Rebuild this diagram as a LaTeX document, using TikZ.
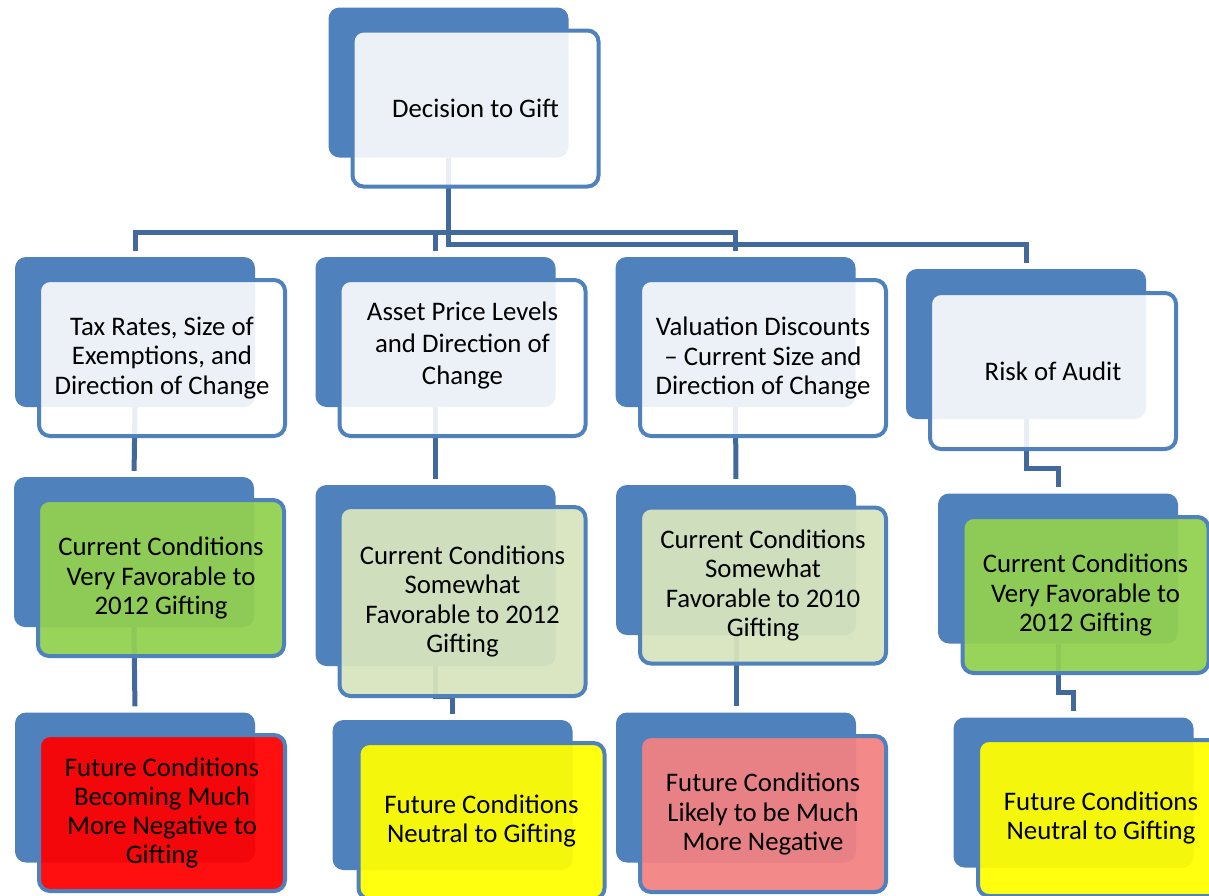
\documentclass[tikz,border=0pt]{standalone}
\usepackage{fontspec}
\setmainfont{Carlito}
\usetikzlibrary{calc}
\pgfdeclarelayer{links}
\pgfsetlayers{links,main}

\definecolor{accent}{RGB}{79,129,189}
\definecolor{linkblue}{RGB}{65,105,155}
\definecolor{leafgreen}{RGB}{146,208,80}
\definecolor{palegreen}{RGB}{215,228,189}
\definecolor{alertred}{RGB}{255,0,0}
\definecolor{softred}{RGB}{242,130,130}
\definecolor{brightyellow}{RGB}{255,255,0}

\tikzset{
  backbox/.style={fill=accent, rounded corners=11pt, minimum width=240pt,
    minimum height=150pt, inner sep=0pt},
  frontbox/.style={draw=accent, line width=4pt, fill=white, fill opacity=0.89,
    text opacity=1, rounded corners=11pt, minimum width=246pt,
    minimum height=156pt, align=center, inner sep=0pt,
    font=\fontsize{26.8}{29.3}\selectfont},
  tinted/.style={frontbox, fill=#1, fill opacity=0.94},
  boxtext/.style={align=center, inner sep=0pt, font=\fontsize{26.8}{32}\selectfont},
  conn/.style={draw=linkblue, line width=5pt, shorten >=6pt},
}

\begin{document}
\begin{tikzpicture}[x=1pt, y=-1pt]
  \useasboundingbox (0,0) rectangle (1209,895);
  \clip (0,0) rectangle (1209,895);

  % root
  \node[backbox] (b0) at (448.5,82.5) {};
  \node[frontbox] (f0) at (475.5,108.5) {Decision to Gift};

  % first level: the four factors
  \node[backbox] (b1) at (135,332) {};
  \node[frontbox] (f1) at (162,358) {Tax Rates, Size of\\Exemptions, and\\Direction of Change};

  \node[backbox] (b2) at (435.5,332) {};
  \node[frontbox] (f2) at (462.5,358) {};
  \node[boxtext] (t2) at (462.5,345) {Asset Price Levels\\and Direction of\\Change};

  \node[backbox] (b3) at (735.5,332) {};
  \node[frontbox] (f3) at (763,358) {Valuation Discounts\\\textendash{} Current Size and\\Direction of Change};

  \node[backbox] (b4) at (1026,344) {};
  \node[frontbox] (f4) at (1053,371) {Risk of Audit};

  % second level: current conditions
  \node[backbox] (b5) at (134,552) {};
  \node[tinted=leafgreen] (f5) at (161,578) {Current Conditions\\Very Favorable to\\2012 Gifting};

  \node[backbox, minimum height=181pt] (b6) at (435.5,575.5) {};
  \node[tinted=palegreen, minimum height=189pt] (f6) at (462.5,601.5) {Current Conditions\\Somewhat\\Favorable to 2012\\Gifting};

  \node[backbox] (b7) at (736,560) {};
  \node[tinted=palegreen] (f7) at (763,585.5) {Current Conditions\\Somewhat\\Favorable to 2010\\Gifting};

  \node[backbox] (b8) at (1058,568.5) {};
  \node[tinted=leafgreen] (f8) at (1085.5,595) {Current Conditions\\Very Favorable to\\2012 Gifting};

  % third level: future conditions
  \node[backbox] (b9) at (135,787.5) {};
  \node[tinted=alertred] (f9) at (162,813) {Future Conditions\\Becoming Much\\More Negative to\\Gifting};

  \node[backbox] (b10) at (452.5,795) {};
  \node[tinted=brightyellow] (f10) at (481.5,821) {Future Conditions\\Neutral to Gifting};

  \node[backbox] (b11) at (736,787.5) {};
  \node[tinted=softred] (f11) at (763,814) {Future Conditions\\Likely to be Much\\More Negative};

  \node[backbox] (b12) at (1073.5,792.5) {};
  \node[tinted=brightyellow] (f12) at (1101,818) {Future Conditions\\Neutral to Gifting};

  % connectors, kept underneath the boxes
  \begin{pgfonlayer}{links}
    \draw[conn] (b0.south) -- ++(0,75) -| (b1.north);
    \draw[conn] (b0.south) -- ++(0,75) -| (b2.north);
    \draw[conn] (b0.south) -- ++(0,75) -| (b3.north);
    \draw[conn] (b0.south) -- ++(0,87) -| (b4.north);

    \draw[conn] (b1.south) -- (b5.north);
    \draw[conn] (b2.south) -- (b6.north);
    \draw[conn] (b3.south) -- (b7.north);
    \draw[conn] (b4.south) -- ++(0,49) -| (b8.north);

    \draw[conn] (b5.south) -- (b9.north);
    \draw[conn] (b6.south) -- ++(0,30) -| (b10.north);
    \draw[conn] (b7.south) -- (b11.north);
    \draw[conn] (b8.south) -- ++(0,49) -| (b12.north);
  \end{pgfonlayer}
\end{tikzpicture}
\end{document}
